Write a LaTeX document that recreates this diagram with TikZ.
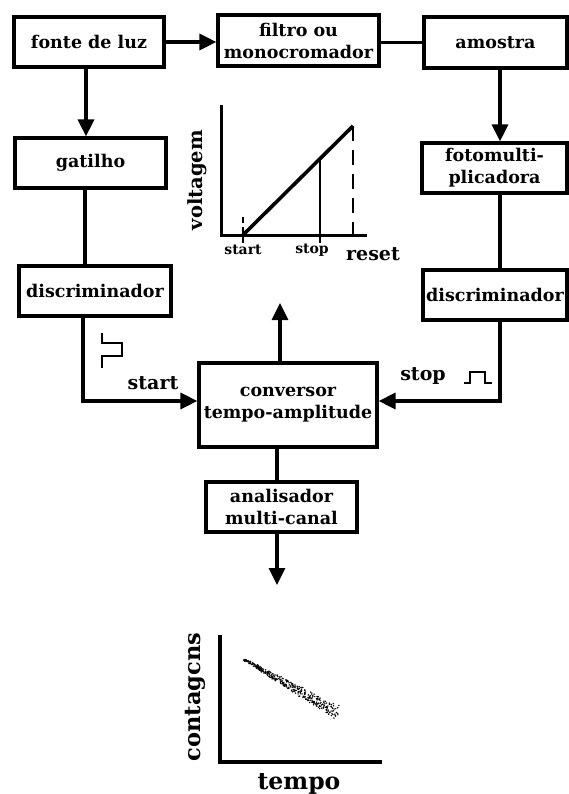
\documentclass[tikz,border=0pt]{standalone}
\usepackage{fontspec}
\setmainfont{DejaVu Serif}
\usetikzlibrary{arrows.meta,calc}
\begin{document}
\begin{tikzpicture}[x=1pt,y=-1pt,
  box/.style={draw,line width=3.2pt,inner sep=0pt,font=\bfseries\fontsize{17.5}{22}\selectfont,align=center},
  conn/.style={line width=3.2pt},
  arr/.style={conn,-{Triangle[length=17pt,width=16pt]}},
  lbl/.style={font=\bfseries\fontsize{19}{21}\selectfont,inner sep=0pt},
  small/.style={font=\bfseries\fontsize{14}{16}\selectfont,inner sep=0pt},
  pulse/.style={line width=2.6pt},
]
\useasboundingbox[fill=white] (0,0) rectangle (569,794);
% boxes
\node[box,minimum width=150pt,minimum height=50pt] (fonte) at (89,42) {fonte de luz};
\node[box,minimum width=161pt,minimum height=51pt] (filtro) at (298.5,40.5) {filtro ou\\monocromador};
\node[box,minimum width=143pt,minimum height=51pt] (amostra) at (495.5,42.5) {amostra};
\node[box,minimum width=151pt,minimum height=50pt] (gatilho) at (90.5,163) {gatilho};
\node[box,minimum width=145pt,minimum height=50pt] (foto) at (494.5,168) {fotomulti-\\plicadora};
\node[box,minimum width=152pt,minimum height=50pt] (discL) at (95,291) {discriminador};
\node[box,minimum width=144pt,minimum height=50pt] (discR) at (495,295) {discriminador};
\node[box,minimum width=178pt,minimum height=84pt] (conv) at (288,405) {conversor\\tempo-amplitude};
\node[box,minimum width=151pt,minimum height=50pt] (anal) at (281.5,507) {analisador\\multi-canal};
% free ends
\coordinate (up) at (280,303);
\coordinate (down) at (277,585);
% connectors
\draw[arr] (fonte.east) -- (filtro.west |- fonte.east);
\draw[conn] (filtro.east |- amostra.west) -- (amostra.west);
\draw[arr] (fonte.south -| 86,0) -- (gatilho.north -| 86,0);
\draw[conn] (gatilho.south -| 85,0) -- (discL.north -| 85,0);
\draw[arr] (discL.south -| 83,0) |- ($(conv.west)+(0,-4)$);
\draw[arr] (amostra.south -| 500,0) -- (foto.north -| 500,0);
\draw[conn] (foto.south -| 500,0) -- (discR.north -| 500,0);
\draw[arr] (discR.south -| 500,0) |- ($(conv.east)+(0,-4)$);
\draw[arr] (conv.north -| up) -- (up);
\draw[conn] (conv.south -| down) -- (anal.north -| down);
\draw[arr] (anal.south -| down) -- (down);
% pulses and labels
\draw[pulse] (102,333) -- (102,343) -- (122,343) -- (122,356) -- (102,356) -- (102,368);
\node[lbl] (startlbl) at (153,383) {start};
\draw[pulse] (464,383) -- (470,383) -- (470,372) -- (485,372) -- (485,383) -- (492,383);
\node[lbl] (stoplbl) at (423,376) {stop};
% voltage graph
\draw[line width=3pt] (221,105) -- (221,235) -- (367,235);
\draw[line width=3.6pt] (243,235) -- (353,126);
\draw[line width=1.1pt] (320,158.7) -- (320,243);
\draw[line width=1.8pt,dash pattern=on 15pt off 9pt] (353,126) -- (353,243);
\draw[line width=1.3pt,dash pattern=on 6pt off 4pt] (243,217) -- (243,243);
\node[small] (vstart) at (243,250) {start};
\node[small] (vstop) at (312,250) {stop};
\node[font=\bfseries\fontsize{19}{21}\selectfont,inner sep=0pt] (vreset) at (373,254) {reset};
\node[font=\bfseries\fontsize{19.5}{21}\selectfont,inner sep=0pt,rotate=90] (vlab) at (197,180) {voltagem};
% counts graph
\draw[line width=4.5pt] (220,635) -- (220,762) -- (382,762);
\node[font=\bfseries\fontsize{22.5}{24}\selectfont,inner sep=0pt,rotate=90] (clab) at (195,697) {contagcns};
\node[font=\bfseries\fontsize{23.5}{25}\selectfont,inner sep=0pt] (tlab) at (299,784) {tempo};
\pgfmathsetseed{7}
\foreach \i in {1,...,380}{
  \pgfmathsetmacro{\t}{rnd}
  \pgfmathsetmacro{\px}{245+93*\t+1.5*rand}
  \pgfmathsetmacro{\py}{660+53*\t+(1+6.5*\t)*rand}
  \fill (\px,\py) circle (0.8pt);
}
\end{tikzpicture}
\end{document}
